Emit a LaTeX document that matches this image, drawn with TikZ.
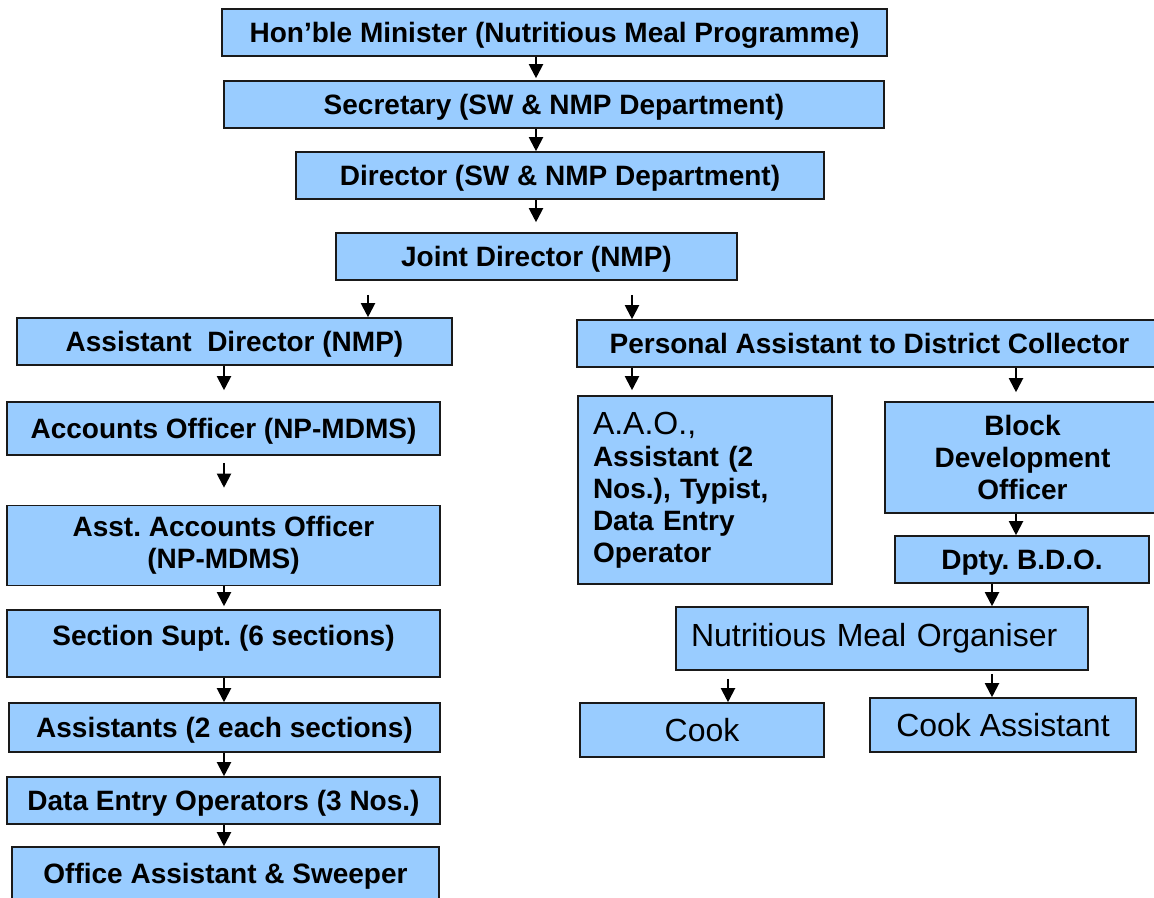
\documentclass[tikz,border=0pt]{standalone}
\usepackage{fontspec}
\setmainfont{Liberation Sans}
\usetikzlibrary{arrows.meta}
\definecolor{boxFill}{HTML}{99CCFF}
\definecolor{boxEdge}{HTML}{1A1A1A}
\definecolor{inkDark}{HTML}{000000}
\frenchspacing

\begin{document}
\begin{tikzpicture}[
  x=1pt, y=-1pt,
  font=\bfseries\fontsize{28}{32}\selectfont,
  box/.style={
    rectangle, draw=boxEdge, fill=boxFill, line width=1.6pt,
    align=center, inner sep=0pt, text=inkDark},
  wh/.style 2 args={minimum width=#1pt, minimum height=#2pt},
  oneline/.style={text height=25pt, text depth=5pt},
  light/.style={font=\mdseries\fontsize{32}{36}\selectfont},
  flow/.style={-{Triangle[length=14pt,width=14pt]}, line width=2pt, draw=inkDark},
]
\useasboundingbox (0,0) rectangle (1154,897);
\clip (0,0) rectangle (1154,897);
\fill[white] (0,0) rectangle (1154,897);

% =============================== nodes =====================================
\node[box, oneline, wh={665}{47}] at (554.5,32.5)  (minister) {Hon'ble Minister (Nutritious Meal Programme)};
\node[box, oneline, wh={660}{47}] at (554,104.5)   (secy)     {Secretary (SW \& NMP Department)};
\node[box, oneline, wh={528}{47}] at (560,175.5)   (dir)      {Director (SW \& NMP Department)};
\node[box, oneline, wh={401}{47}] at (536.5,256.5) (jd)       {Joint Director (NMP)};

% left column
\node[box, oneline, wh={435}{47}] at (234.5,341.5) (ad)   {Assistant\ \ Director (NMP)};
\node[box, oneline, wh={433}{53}] at (223.5,428.5) (ao)   {Accounts Officer (NP-MDMS)};
\node[box, wh={433}{80}]          at (223.5,545.5) (aao)  {Asst. Accounts Officer\\(NP-MDMS)};
\node[box, wh={433}{67}, text height=20pt, text depth=17pt]
                                  at (223.5,643.5) (supt) {Section Supt. (6 sections)};
\node[box, oneline, wh={431}{49}] at (224.5,727.5) (asst) {Assistants (2 each sections)};
\node[box, oneline, wh={433}{47}] at (223.5,800.5) (deo)  {Data Entry Operators (3 Nos.)};
\node[box, oneline, wh={427}{52}] at (225.5,873)   (oa)   {Office Assistant \& Sweeper};

% right column
\node[box, oneline, wh={585}{47}] at (869.5,343.5) (pa)   {Personal Assistant to District Collector};
\node[box, wh={254}{188}, align=left, text width=224pt, inner xsep=15pt]
                         at (705,490)     (aaoGrp) {%
  {\mdseries\fontsize{32}{32}\selectfont A.A.O.,}\\
  Assistant (2\\
  Nos.), Typist,\\
  Data Entry\\
  Operator};
\node[box, wh={275}{111}] at (1022.5,457.5) (bdo)  {Block\\Development\\Officer};
\node[box, oneline, wh={254}{47}] at (1022,559.5) (dbdo) {Dpty. B.D.O.};
\node[box, light, wh={412}{63}, align=left, text width=382pt, inner xsep=15pt]
                          at (882,638.5)    (nmo)  {Nutritious Meal Organiser};
\node[box, light, wh={244}{54}] at (702,730)  (cook) {Cook};
\node[box, light, wh={266}{54}] at (1003,725) (cookA) {Cook Assistant};

% arrow columns
\coordinate (xTop)  at (536,0);
\coordinate (xLeft) at (224,0);
\coordinate (xAD)   at (368,0);
\coordinate (xPA)   at (632,0);
\coordinate (xBDO)  at (1016,0);
\coordinate (xNMO)  at (992,0);
\coordinate (xCook) at (728,0);

% =============================== flows =====================================
\draw[flow, shorten >=2pt] (minister.south -| xTop) -- (secy.north -| xTop);
\draw[flow] (secy.south -| xTop) -- (dir.north -| xTop);
\draw[flow, shorten >=10pt] (dir.south -| xTop) -- (jd.north -| xTop);

% joint director -> two branches
\draw[flow, shorten <=14pt] (jd.south -| xAD) -- (ad.north -| xAD);
\draw[flow, shorten <=14pt] (jd.south -| xPA) -- (pa.north -| xPA);

% left chain
\draw[flow, shorten >=11pt] (ad.south -| xLeft) -- (ao.north -| xLeft);
\draw[flow, shorten <=7pt, shorten >=17pt] (ao.south -| xLeft) -- (aao.north -| xLeft);
\draw[flow, shorten >=3pt] (aao.south -| xLeft) -- (supt.north -| xLeft);
\draw[flow] (supt.south -| xLeft) -- (asst.north -| xLeft);
\draw[flow] (asst.south -| xLeft) -- (deo.north -| xLeft);
\draw[flow] (deo.south -| xLeft) -- (oa.north -| xLeft);

% right chain
\draw[flow, shorten >=5pt] (pa.south -| xPA) -- (aaoGrp.north -| xPA);
\draw[flow, shorten >=9pt] (pa.south -| xBDO) -- (bdo.north -| xBDO);
\draw[flow] (bdo.south -| xBDO) -- (dbdo.north -| xBDO);
\draw[flow] (dbdo.south -| xNMO) -- (nmo.north -| xNMO);
\draw[flow, shorten <=8pt] (nmo.south -| xCook) -- (cook.north -| xCook);
\draw[flow, shorten <=3pt] (nmo.south -| xNMO) -- (cookA.north -| xNMO);

\end{tikzpicture}
\end{document}
